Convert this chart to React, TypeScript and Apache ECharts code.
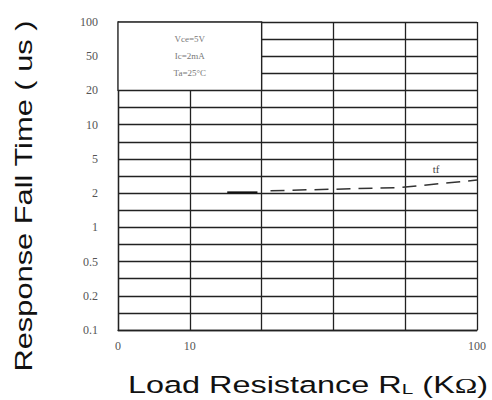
import React, { useEffect, useRef } from "react";
import * as echarts from "echarts";

// Y axis tick values (us) and their labels, bottom to top
const yTickValues = [0.1, 0.2, 0.5, 1, 2, 5, 10, 20, 50, 100];
const yTickLabels = ["0.1", "0.2", "0.5", "1", "2", "5", "10", "20", "50", "100"];
// X axis tick positions (grid columns) and labels
const xTickPos = [0, 1, 5];
const xTickLabels = ["0", "10", "100"];

// Response fall time curve: load resistance (kOhm) -> fall time (us)
const solidR = [13.5, 17.2];
const solidT = [2.04, 2.04];
const dashR = [19.1, 54, 100];
const dashT = [2.13, 2.32, 2.84];

const conditions = ["Vce=5V", "Ic=2mA", "Ta=25°C"];
const curveName = "tf";
const curveLabelR = [72];
const curveLabelT = [3.8];

function yToIdx(v: number): number {
  for (let i = 0; i < yTickValues.length - 1; i++) {
    const a = yTickValues[i];
    const b = yTickValues[i + 1];
    if (v >= a && v <= b) return i + Math.log(v / a) / Math.log(b / a);
  }
  return v < yTickValues[0] ? 0 : yTickValues.length - 1;
}
function xToIdx(r: number): number {
  if (r <= 10) return r / 10;
  return 1 + 4 * Math.log10(r / 10);
}

const tickFont = {
  fontFamily: "Liberation Serif",
  fontSize: 12,
  color: "#555",
};

export default function App() {
  const ref = useRef<HTMLDivElement>(null);
  useEffect(() => {
    if (!ref.current) return;
    document.body.style.margin = "0";
    const chart = echarts.init(ref.current, null, { renderer: "svg" });
    const gridLine = { color: "#222", width: 1.3 };
    chart.setOption({
      animation: false,
      backgroundColor: "#fff",
      grid: { left: 118, right: 15, top: 22, bottom: 70 },
      xAxis: {
        type: "value",
        min: 0,
        max: 5,
        interval: 1,
        axisLine: { show: true, lineStyle: gridLine },
        axisTick: { show: false },
        splitLine: { show: true, lineStyle: gridLine },
        axisLabel: {
          ...tickFont,
          margin: 10,
          showMinLabel: true,
          showMaxLabel: true,
          formatter: (v: number) => {
            const k = xTickPos.indexOf(Math.round(v));
            return k >= 0 && Math.abs(v - Math.round(v)) < 1e-6 ? xTickLabels[k] : "";
          },
        },
      },
      yAxis: {
        type: "value",
        min: 0,
        max: 9,
        interval: 0.5,
        axisLine: { show: true, lineStyle: gridLine },
        axisTick: { show: false },
        splitLine: { show: true, lineStyle: gridLine },
        axisLabel: {
          ...tickFont,
          margin: 20,
          showMinLabel: true,
          showMaxLabel: true,
          formatter: (v: number) =>
            Math.abs(v - Math.round(v)) < 1e-6 ? yTickLabels[Math.round(v)] : "",
        },
      },
      series: [
        {
          type: "line",
          data: solidR.map((r, i) => [xToIdx(r), yToIdx(solidT[i])]),
          symbol: "none",
          lineStyle: { color: "#111", width: 2 },
          z: 3,
          markArea: {
            silent: true,
            itemStyle: { color: "#fff", borderColor: "#222", borderWidth: 1.3 },
            label: {
              show: true,
              position: "inside",
              formatter: conditions.join("\n"),
              fontFamily: "Liberation Serif",
              fontSize: 9,
              lineHeight: 17,
              color: "#777",
            },
            data: [[{ coord: [0, 7] }, { coord: [2, 9] }]],
          },
        },
        {
          type: "line",
          data: dashR.map((r, i) => [xToIdx(r), yToIdx(dashT[i])]),
          symbol: "none",
          lineStyle: { color: "#333", width: 1.5, type: [14, 8] },
          z: 3,
          markPoint: {
            symbol: "circle",
            symbolSize: 1,
            itemStyle: { color: "rgba(0,0,0,0)" },
            label: {
              show: true,
              position: "inside",
              formatter: curveName,
              fontFamily: "Liberation Serif",
              fontSize: 11,
              color: "#444",
            },
            data: curveLabelR.map((r, i) => ({
              coord: [xToIdx(r), yToIdx(curveLabelT[i])],
            })),
          },
        },
      ],
      graphic: [
        {
          type: "text",
          x: 24,
          y: 196,
          rotation: Math.PI / 2,
          scaleX: 1.34,
          style: {
            text: "Response Fall Time ( us )",
            fontFamily: "Liberation Sans",
            fontSize: 23,
            fill: "#111",
            align: "center",
            verticalAlign: "middle",
          },
        },
        {
          type: "text",
          x: 308,
          y: 383,
          scaleX: 1.38,
          style: {
            text: "{m|Load Resistance R}{s|L}{m| (K}{o|Ω}{m|)}",
            align: "center",
            verticalAlign: "middle",
            rich: {
              m: { fontFamily: "Liberation Sans", fontSize: 23.5, lineHeight: 28, fill: "#111", verticalAlign: "bottom" },
              o: { fontFamily: "Liberation Serif", fontSize: 22, lineHeight: 28, fill: "#111", verticalAlign: "bottom" },
              s: { fontFamily: "Liberation Sans", fontSize: 15, lineHeight: 20, fill: "#111", verticalAlign: "bottom" },
            },
          },
        },
      ],
    });
    return () => chart.dispose();
  }, []);
  return <div ref={ref} style={{ width: 492, height: 400 }} />;
}
